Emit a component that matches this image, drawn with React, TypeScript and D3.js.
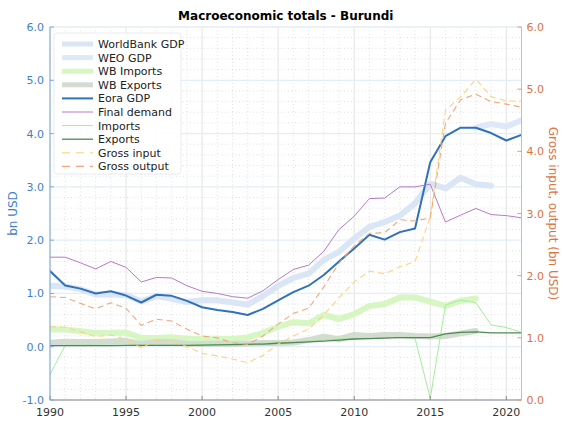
import React from "react";
import * as d3 from "d3";

const years = [1990,1991,1992,1993,1994,1995,1996,1997,1998,1999,2000,2001,2002,2003,2004,2005,2006,2007,2008,2009,2010,2011,2012,2013,2014,2015,2016,2017,2018,2019,2020,2021];

const wbGdp = [1.14,1.13,1.08,0.98,0.98,0.97,0.85,0.95,0.90,0.84,0.87,0.87,0.83,0.79,0.95,1.14,1.29,1.37,1.63,1.78,2.03,2.25,2.34,2.46,2.69,3.06,2.97,3.17,3.05,3.02,null,null];
const weoGdp = [null,null,null,null,null,null,null,null,null,null,null,null,null,null,null,null,null,null,null,null,null,null,null,null,null,null,null,null,4.11,4.18,4.13,4.25];
const wbImports = [0.325,0.325,0.29,0.26,0.26,0.265,0.165,0.165,0.18,0.15,0.145,0.145,0.145,0.175,0.26,0.375,0.46,0.44,0.595,0.52,0.61,0.765,0.80,0.925,0.925,0.845,0.765,0.865,0.905,null,null,null];
const wbExports = [0.075,0.095,0.09,0.09,0.10,0.11,0.05,0.095,0.09,0.055,0.05,0.06,0.05,0.06,0.07,0.07,0.08,0.125,0.19,0.14,0.22,0.20,0.22,0.22,0.20,0.19,0.20,0.25,0.295,null,null,null];
const eoraGdp = [1.42,1.15,1.09,1.00,1.04,0.96,0.83,0.975,0.955,0.86,0.74,0.69,0.65,0.595,0.71,0.87,1.025,1.145,1.345,1.60,1.845,2.10,2.01,2.15,2.22,3.46,3.95,4.11,4.11,4.01,3.87,3.975];
const finalDemand = [1.68,1.68,1.575,1.46,1.60,1.49,1.215,1.30,1.29,1.145,1.04,1.00,0.94,0.91,1.05,1.26,1.45,1.53,1.79,2.20,2.45,2.78,2.79,3.00,3.00,3.05,2.34,2.47,2.595,2.48,2.46,2.42];
const imports = [-0.52,0.025,0.03,0.03,0.03,0.03,0.03,0.03,0.03,0.03,0.035,0.04,0.045,0.055,0.065,0.075,0.09,0.105,0.125,0.15,0.15,0.16,0.175,0.17,0.16,-0.97,0.78,0.875,0.825,0.41,0.36,0.27];
const exportsE = [0.02,0.02,0.02,0.02,0.02,0.025,0.025,0.025,0.025,0.025,0.03,0.035,0.04,0.045,0.05,0.065,0.075,0.09,0.105,0.125,0.145,0.15,0.16,0.17,0.17,0.17,0.24,0.27,0.28,0.26,0.26,0.26];
const grossInput = [1.18,1.17,1.10,1.02,1.045,0.975,0.84,0.965,0.94,0.86,0.75,0.71,0.66,0.60,0.72,0.90,1.03,1.14,1.37,1.645,1.90,2.075,2.03,2.145,2.225,2.95,4.66,4.88,5.16,4.88,4.81,4.81];
const grossOutput = [1.66,1.65,1.555,1.465,1.565,1.475,1.20,1.30,1.27,1.14,1.03,1.00,0.92,0.895,1.03,1.22,1.395,1.475,1.82,2.20,2.48,2.68,2.69,2.90,2.88,2.93,4.45,4.83,4.92,4.80,4.76,4.71];

const leftTicks = [-1, 0, 1, 2, 3, 4, 5, 6];
const rightTicks = [0, 1, 2, 3, 4, 5, 6];
const xTicks = [1990, 1995, 2000, 2005, 2010, 2015, 2020];

type S = { name: string; data: (number | null)[]; color: string; width: number; dash?: string; axis: "L" | "R"; opacity?: number };

const series: S[] = [
  { name: "WorldBank GDP", data: wbGdp, color: "#dae5f6", width: 6, axis: "L" },
  { name: "WEO GDP", data: weoGdp, color: "#dde8f8", width: 6, axis: "L" },
  { name: "WB Imports", data: wbImports, color: "#d6f6c2", width: 6, axis: "L" },
  { name: "WB Exports", data: wbExports, color: "#d3dcd0", width: 6, axis: "L" },
  { name: "Eora GDP", data: eoraGdp, color: "#2f72b8", width: 2, axis: "L" },
  { name: "Final demand", data: finalDemand, color: "#b77ac8", width: 1, axis: "L" },
  { name: "Imports", data: imports, color: "#a3ee9c", width: 1, axis: "L" },
  { name: "Exports", data: exportsE, color: "#4f8a52", width: 1.3, axis: "L" },
  { name: "Gross input", data: grossInput, color: "#ffd27c", width: 1.1, dash: "6,4", axis: "R" },
  { name: "Gross output", data: grossOutput, color: "#f2a679", width: 1.1, dash: "6,4", axis: "R" },
];

export default function App() {
  const W = 563, H = 421;
  const x0 = 50, x1 = 521.5, yTop = 27, yBot = 400;
  const x = d3.scaleLinear().domain([1990, 2021]).range([x0, x1]);
  const yL = d3.scaleLinear().domain([-1, 6]).range([yBot, yTop]);
  const yR = d3.scaleLinear().domain([0, 6]).range([yBot, yTop]);
  const font = "DejaVu Sans, sans-serif";
  const blue = "#3f7fc8";
  const orange = "#dc7440";

  const minorY = d3.range(-1, 6.001, 0.2).filter(v => Math.abs(v - Math.round(v)) > 0.01);
  const minorX = years.filter(yv => yv % 5 !== 0);

  const mkLine = (s: S) => {
    const ys = s.axis === "L" ? yL : yR;
    const gen = d3.line<number>()
      .defined((_, i) => s.data[i] !== null)
      .x((_, i) => x(years[i]))
      .y((_, i) => ys(s.data[i] as number));
    return gen(years.map((_, i) => i)) || "";
  };

  const legX = 62, legY0 = 44, legDy = 13.6;

  return (
    <svg width={W} height={H} style={{ position: "absolute", left: 0, top: 0 }} fontFamily={font}>
      <rect width={W} height={H} fill="#fff" />
      <defs>
        <clipPath id="plot"><rect x={x0} y={yTop} width={x1 - x0} height={yBot - yTop} /></clipPath>
      </defs>
      {/* minor grid */}
      {minorX.map(v => (
        <line key={"mx" + v} x1={x(v)} x2={x(v)} y1={yTop} y2={yBot} stroke="#d4d4d4" strokeWidth={0.7} strokeDasharray="1,2.5" />
      ))}
      {minorY.map(v => (
        <line key={"my" + v} x1={x0} x2={x1} y1={yL(v)} y2={yL(v)} stroke="#d4d4d4" strokeWidth={0.7} strokeDasharray="1,2.5" />
      ))}
      {/* major grid */}
      {xTicks.map(v => (
        <line key={"gx" + v} x1={x(v)} x2={x(v)} y1={yTop} y2={yBot} stroke="#e2e2e2" strokeWidth={1} />
      ))}
      {leftTicks.map(v => (
        <line key={"gy" + v} x1={x0} x2={x1} y1={yL(v)} y2={yL(v)} stroke="#e4edf9" strokeWidth={1.3} />
      ))}
      {/* series */}
      <g clipPath="url(#plot)">
        {series.map(s => (
          <path key={s.name} d={mkLine(s)} fill="none" stroke={s.color} strokeWidth={s.width}
            strokeDasharray={s.dash} strokeLinejoin="round" strokeLinecap={s.dash ? "butt" : "round"} />
        ))}
      </g>
      {/* axes */}
      <line x1={x0} x2={x1} y1={yBot} y2={yBot} stroke="#888" strokeWidth={1} />
      {xTicks.map(v => (
        <g key={"xt" + v}>
          <line x1={x(v)} x2={x(v)} y1={yBot} y2={yBot - 4} stroke="#888" />
          <text x={x(v)} y={yBot + 16} textAnchor="middle" fontSize={11} fill="#333">{v}</text>
        </g>
      ))}
      <line x1={x0} x2={x0} y1={yTop} y2={yBot} stroke="#7aa7dc" strokeWidth={1} />
      {leftTicks.map(v => (
        <g key={"lt" + v}>
          <line x1={x0} x2={x0 + 4} y1={yL(v)} y2={yL(v)} stroke="#7aa7dc" />
          <text x={x0 - 6} y={yL(v) + 4} textAnchor="end" fontSize={11} fill={blue}>{v.toFixed(1)}</text>
        </g>
      ))}
      <line x1={x1} x2={x1} y1={yTop} y2={yBot} stroke="#eab394" strokeWidth={1} />
      {rightTicks.map(v => (
        <g key={"rt" + v}>
          <line x1={x1} x2={x1 - 4} y1={yR(v)} y2={yR(v)} stroke="#e59a70" />
          <text x={x1 + 5} y={yR(v) + 4} textAnchor="start" fontSize={11} fill={orange}>{v.toFixed(1)}</text>
        </g>
      ))}
      <text transform={`translate(17,${(yTop + yBot) / 2}) rotate(-90)`} textAnchor="middle" fontSize={12} fill={blue}>bn USD</text>
      <text transform={`translate(549,${(yTop + yBot) / 2}) rotate(90)`} textAnchor="middle" fontSize={12} fill={orange}>Gross input, output (bn USD)</text>
      <text x={(x0 + x1) / 2} y={20} textAnchor="middle" fontSize={12} fontWeight="bold" fill="#000">Macroeconomic totals - Burundi</text>
      {/* legend */}
      <rect x={54} y={33} width={127} height={141} rx={3} fill="#fff" fillOpacity={0.85} stroke="#e6e6e6" strokeWidth={0.8} />
      {series.map((s, i) => (
        <g key={"lg" + s.name}>
          <line x1={legX} x2={legX + 31} y1={legY0 + i * legDy} y2={legY0 + i * legDy} stroke={s.color}
            strokeWidth={s.width > 3 ? 5 : s.width} strokeDasharray={s.dash ? "8,6" : undefined} />
          <text x={legX + 36} y={legY0 + i * legDy + 4} fontSize={11} fill="#222">{s.name}</text>
        </g>
      ))}
    </svg>
  );
}
